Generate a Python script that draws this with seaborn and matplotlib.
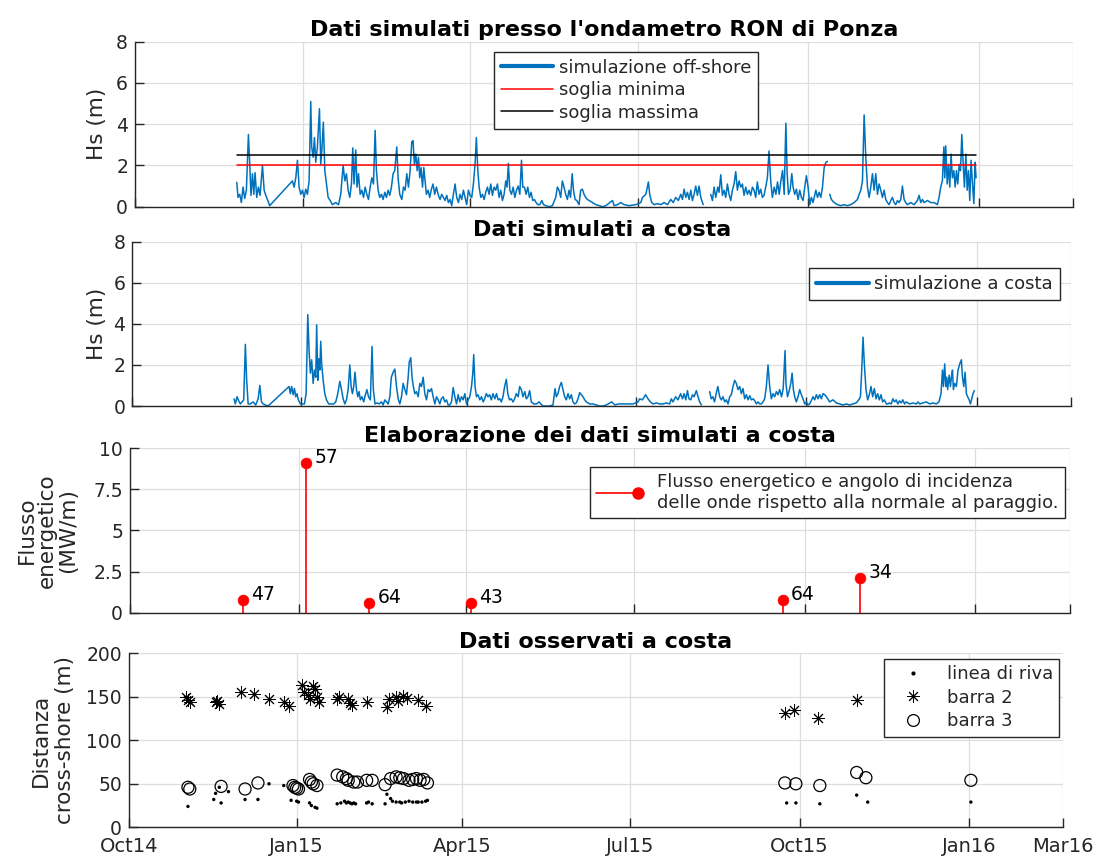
import numpy as np
import pandas as pd
import matplotlib
matplotlib.use("Agg")
import matplotlib.pyplot as plt
import seaborn as sns
from matplotlib.lines import Line2D
from matplotlib.legend_handler import HandlerLine2D

# ---------------- dati ----------------
# serie simulate: giorni dall'inizio della simulazione, Hs in metri (nan = buco nei dati)
inizio_sim = "2014-11-26"

giorni_off = [
    0.0, 0.7, 1.6, 2.5, 3.4, 4.3, 5.2, 6.3, 7.0, 7.7,
    8.5, 9.2, 9.9, 10.8, 11.7, 12.6, 13.9, 14.8, 15.7, 16.8,
    17.8, 30.1, 31.0, 31.9, 32.8, 33.7, 34.6, 35.5, 36.4, 37.3,
    38.2, 39.1, 40.0, 40.5, 41.3, 42.0, 42.7, 43.6, 44.7, 45.4,
    46.1, 46.8, 47.6, 48.5, 49.4, 50.5, 51.7, 53.5, 55.0, 56.2,
    57.5, 58.4, 59.3, 60.2, 61.1, 62.0, 62.7, 63.4, 64.3, 65.0,
    65.8, 66.7, 67.6, 68.5, 69.4, 70.3, 71.2, 72.1, 73.0, 73.9,
    74.8, 75.5, 76.4, 77.3, 78.2, 79.1, 80.0, 80.9, 81.8, 82.7,
    83.6, 84.5, 85.4, 86.5, 87.2, 88.1, 89.2, 90.1, 91.0, 91.9,
    92.8, 93.7, 94.6, 95.3, 96.0, 96.8, 97.5, 98.2, 98.9, 99.6,
    100.4, 101.1, 101.8, 102.5, 103.4, 104.3, 105.2, 106.1, 107.0, 107.9,
    109.0, 109.9, 110.8, 111.7, 112.6, 113.5, 114.4, 115.3, 116.2, 117.1,
    118.0, 118.9, 119.8, 120.7, 121.6, 122.5, 123.4, 124.3, 125.2, 126.1,
    127.0, 127.9, 128.8, 129.5, 130.3, 131.0, 131.9, 132.8, 133.7, 134.6,
    135.5, 136.4, 137.3, 138.2, 139.1, 140.0, 140.9, 141.8, 142.7, 143.6,
    144.5, 145.4, 146.1, 146.8, 147.6, 148.5, 149.4, 150.3, 151.2, 152.1,
    153.0, 153.9, 154.6, 155.5, 156.4, 157.3, 158.2, 159.1, 160.0, 160.9,
    161.8, 162.7, 163.8, 164.9, 165.8, 167.0, 168.8, 170.6, 172.4, 173.3,
    174.2, 175.1, 176.0, 176.9, 177.8, 178.7, 179.6, 180.4, 181.3, 182.0,
    182.9, 183.8, 185.0, 185.9, 186.8, 187.7, 188.6, 189.5, 190.5, 192.3,
    194.1, 195.9, 197.7, 199.5, 203.1, 204.0, 205.8, 207.6, 209.4, 212.1,
    215.7, 218.4, 219.3, 221.1, 222.5, 223.2, 224.3, 225.6, 227.4, 229.2,
    231.0, 232.8, 234.6, 235.9, 237.3, 238.7, 240.0, 240.9, 241.8, 242.7,
    243.6, 244.5, 245.4, 246.3, 247.2, 248.1, 249.0, 249.9, 250.8, 252.1,
    254.0, 256.2, 257.1, 258.0, 258.9, 260.0, 260.7, 261.6, 262.5, 263.4,
    264.3, 265.2, 266.1, 267.0, 267.9, 268.8, 269.7, 270.6, 271.5, 272.4,
    273.3, 274.2, 275.1, 276.0, 276.9, 277.8, 278.7, 279.6, 280.5, 281.4,
    282.3, 283.2, 284.1, 285.0, 285.9, 286.8, 287.7, 288.6, 289.5, 290.5,
    291.4, 292.3, 293.2, 294.1, 295.0, 295.9, 296.8, 297.5, 298.2, 299.1,
    300.0, 300.7, 301.6, 302.5, 303.4, 304.3, 305.2, 306.1, 307.0, 307.9,
    308.8, 309.7, 310.6, 311.5, 313.0, 313.9, 314.8, 315.7, 316.6, 317.5,
    318.4, 319.3, 319.9, 320.5, 321.4, 322.9, 324.7, 326.5, 328.3, 330.1,
    331.9, 333.7, 335.5, 336.4, 337.3, 338.2, 339.1, 340.0, 340.9, 341.8,
    342.7, 343.6, 344.5, 345.4, 346.3, 347.2, 348.1, 349.0, 349.9, 350.8,
    351.7, 352.6, 353.5, 354.4, 355.3, 356.2, 357.1, 358.0, 358.9, 359.8,
    360.7, 361.6, 362.5, 364.3, 366.1, 367.9, 368.8, 369.7, 370.6, 371.5,
    373.3, 375.1, 376.9, 378.7, 379.6, 380.5, 381.4, 382.2, 382.7, 383.2,
    384.0, 384.7, 385.4, 386.1, 386.8, 387.6, 388.3, 389.0, 389.7, 390.5,
    391.2, 391.9, 392.6, 393.3, 394.1, 394.8, 395.5, 396.2, 396.9, 397.7,
    398.4, 399.1, 399.6,
]
hs_off = [
    1.18, 0.45, 0.6, 0.2, 0.95, 0.4, 0.8, 3.5, 2.1, 0.55,
    1.6, 0.6, 1.65, 0.45, 0.95, 0.55, 2.0, 0.8, 0.55, 0.3,
    0.05, 1.25, 0.95, 1.4, 2.25, 0.95, 0.6, 0.8, 0.45, 0.85,
    0.6, 1.25, 5.1, 2.9, 2.4, 3.35, 2.15, 2.9, 4.75, 2.05,
    2.9, 4.1, 1.75, 1.1, 0.45, 0.3, 0.1, 0.2, 0.1, 0.6,
    2.0, 1.25, 1.6, 0.8, 0.45, 1.1, 2.85, 1.1, 2.75, 0.95,
    1.6, 0.6, 0.8, 0.45, 0.95, 0.6, 0.35, 0.95, 1.4, 1.1,
    3.7, 1.75, 0.8, 0.45, 0.6, 0.35, 0.7, 0.45, 0.8, 0.55,
    0.95, 1.6, 1.75, 2.9, 1.4, 0.6, 0.35, 0.95, 0.8, 1.6,
    0.95, 1.75, 3.15, 3.2, 2.05, 2.55, 1.75, 2.4, 1.4, 1.9,
    0.95, 1.9, 1.25, 0.6, 0.8, 0.45, 0.85, 1.1, 0.6, 0.95,
    0.55, 0.35, 0.6, 0.45, 0.3, 0.55, 0.2, 0.35, 0.05, 0.6,
    1.1, 0.45, 0.2, 0.6, 0.35, 0.8, 0.45, 0.1, 0.8, 0.55,
    0.45, 1.1, 2.05, 3.35, 1.75, 0.95, 0.45, 0.6, 0.35, 0.7,
    0.95, 0.6, 1.1, 0.55, 0.95, 0.8, 1.1, 0.45, 0.8, 0.3,
    0.6, 1.25, 0.95, 2.1, 0.8, 0.6, 0.95, 0.45, 0.8, 1.0,
    0.6, 2.25, 0.95, 0.95, 0.6, 0.95, 0.45, 0.7, 0.3, 0.35,
    0.2, 0.1, 0.1, 0.3, 0.1, 0.05, 0.0, 0.05, 0.45, 0.95,
    0.8, 0.45, 1.25, 0.95, 0.6, 0.35, 0.8, 0.45, 1.6, 0.8,
    0.35, 0.3, 0.1, 0.8, 0.85, 0.6, 0.45, 0.35, 0.3, 0.2,
    0.1, 0.05, 0.0, 0.05, 0.3, 0.05, 0.1, 0.2, 0.1, 0.05,
    0.1, 0.2, 0.45, 0.6, 1.2, 0.6, 0.2, 0.1, 0.15, 0.1,
    0.2, 0.1, 0.35, 0.2, 0.45, 0.3, 0.6, 0.35, 0.85, 0.45,
    0.7, 0.35, 0.8, 0.3, 0.6, 1.0, 0.55, 1.0, 0.45, 0.1,
    np.nan, 0.6, 0.3, 0.95, 0.45, 0.95, 0.7, 1.55, 0.55, 0.8,
    0.45, 1.1, 0.6, 0.3, 0.8, 1.1, 1.7, 0.8, 1.25, 0.95,
    1.1, 0.55, 0.95, 0.6, 0.8, 0.55, 0.95, 0.8, 0.45, 1.2,
    0.6, 0.85, 0.45, 0.55, 0.95, 1.4, 2.7, 1.25, 0.45, 0.95,
    0.6, 1.2, 0.6, 1.25, 1.75, 0.6, 4.05, 1.6, 0.6, 0.8,
    1.6, 0.95, 0.6, 0.85, 0.35, 0.8, 0.45, 0.3, 0.95, 1.5,
    0.95, 0.1, 0.45, 0.2, 0.8, 0.45, 0.7, 0.45, 0.95, 1.9,
    2.15, 2.2, np.nan, 0.6, 0.35, 0.2, 0.1, 0.05, 0.1, 0.05,
    0.1, 0.2, 0.35, 0.6, 0.8, 1.25, 4.45, 2.4, 0.95, 0.45,
    0.95, 1.6, 0.8, 1.6, 0.6, 1.1, 0.8, 0.45, 0.8, 0.35,
    0.2, 0.1, 0.3, 0.45, 0.2, 0.1, 0.3, 0.2, 0.35, 1.0,
    0.35, 0.2, 0.1, 0.2, 0.1, 0.3, 0.55, 0.2, 0.35, 0.2,
    0.3, 0.2, 0.2, 0.1, 0.45, 0.95, 1.25, 2.9, 1.4, 2.95,
    1.1, 2.05, 0.95, 2.55, 1.4, 1.75, 0.95, 1.75, 1.1, 2.05,
    1.75, 3.5, 2.15, 0.95, 2.55, 0.8, 1.75, 0.3, 2.25, 1.1,
    0.15, 2.15, 1.4,
]

giorni_costa = [
    0.0, 0.7, 1.6, 2.5, 3.4, 4.3, 5.2, 6.1, 6.8, 7.6,
    8.8, 10.3, 11.7, 13.0, 13.9, 14.8, 15.7, 16.9, 18.4, 29.7,
    30.4, 31.1, 31.9, 32.6, 33.3, 34.0, 34.7, 35.8, 36.9, 38.0,
    38.9, 39.8, 40.5, 41.2, 41.9, 42.7, 43.4, 44.1, 44.6, 45.2,
    45.7, 46.3, 46.8, 47.3, 48.1, 49.0, 49.9, 51.1, 52.6, 53.8,
    54.9, 56.0, 57.1, 58.0, 58.9, 59.8, 60.7, 61.6, 62.5, 63.2,
    63.9, 64.6, 65.3, 66.1, 66.8, 67.5, 68.2, 69.1, 70.0, 70.9,
    71.7, 72.6, 73.6, 74.5, 75.2, 76.1, 77.2, 78.3, 79.6, 80.5,
    81.4, 82.3, 83.2, 84.1, 84.9, 85.9, 86.8, 87.7, 88.6, 89.5,
    90.4, 91.3, 92.2, 93.1, 94.0, 94.6, 95.4, 96.1, 96.8, 97.6,
    98.5, 99.4, 100.3, 101.2, 102.1, 103.0, 103.9, 104.8, 105.7, 106.6,
    107.5, 108.4, 109.3, 110.2, 111.1, 111.9, 112.9, 113.8, 114.7, 115.6,
    116.5, 117.4, 118.3, 119.2, 120.1, 121.0, 121.9, 122.8, 123.7, 124.6,
    125.5, 126.4, 127.3, 128.2, 128.9, 129.4, 130.1, 130.9, 131.7, 132.7,
    133.6, 134.5, 135.3, 136.2, 137.1, 138.0, 138.9, 139.8, 140.8, 141.7,
    142.6, 143.5, 144.3, 145.2, 146.1, 147.0, 147.8, 148.7, 149.7, 150.6,
    151.5, 152.4, 153.4, 154.2, 155.1, 156.0, 157.0, 157.8, 158.7, 159.6,
    160.5, 161.8, 163.2, 164.7, 165.6, 166.8, 168.6, 170.4, 172.2, 173.3,
    174.0, 174.9, 175.8, 176.7, 177.6, 178.5, 179.4, 180.3, 181.2, 182.1,
    183.0, 183.9, 184.8, 185.7, 186.6, 187.5, 188.4, 189.3, 190.2, 191.1,
    192.0, 193.8, 195.6, 197.4, 199.2, 201.0, 202.0, 203.9, 205.6, 207.4,
    210.0, 212.7, 215.4, 218.1, 219.0, 220.5, 222.2, 223.5, 224.8, 226.2,
    228.0, 229.8, 231.6, 233.4, 235.2, 236.1, 237.0, 238.4, 239.7, 241.1,
    242.1, 243.0, 243.9, 244.8, 245.6, 246.6, 247.5, 248.4, 249.6, 250.5,
    251.4, 252.3, 254.0, 256.8, 257.6, 258.5, 259.4, 260.3, 261.2, 262.2,
    263.1, 264.0, 264.9, 265.8, 266.7, 267.6, 268.5, 269.4, 270.3, 271.2,
    272.1, 273.0, 273.9, 274.8, 275.7, 276.6, 277.5, 278.4, 279.3, 280.3,
    281.2, 282.0, 282.9, 283.8, 284.7, 285.6, 286.5, 287.4, 288.3, 289.2,
    290.1, 291.0, 291.9, 292.8, 293.7, 294.6, 295.6, 296.5, 296.9, 297.5,
    298.0, 298.8, 299.6, 300.6, 301.3, 302.0, 302.7, 303.6, 304.5, 305.4,
    306.3, 307.2, 308.1, 309.0, 309.9, 310.8, 312.6, 313.5, 314.4, 315.3,
    316.2, 317.1, 318.0, 318.9, 319.8, 321.6, 323.4, 325.2, 327.0, 328.8,
    330.5, 332.3, 334.1, 335.9, 337.3, 338.2, 338.9, 339.6, 340.3, 341.2,
    342.1, 343.0, 343.9, 344.8, 345.7, 346.6, 347.5, 348.4, 349.3, 350.2,
    351.1, 352.2, 353.0, 353.9, 354.8, 355.7, 356.6, 357.5, 358.4, 359.3,
    360.2, 361.1, 362.0, 362.9, 364.8, 366.5, 368.4, 369.3, 370.2, 372.0,
    373.8, 375.6, 377.4, 379.2, 380.6, 381.7, 382.5, 383.0, 383.7, 384.3,
    384.8, 385.3, 386.1, 386.8, 387.3, 387.9, 388.4, 389.1, 390.0, 390.9,
    391.8, 392.7, 393.3, 394.0, 394.7, 395.4, 396.1, 396.9, 397.6, 398.3,
    399.0, 399.7,
]
hs_costa = [
    0.35, 0.1, 0.45, 0.25, 0.1, 0.2, 0.3, 3.0, 1.25, 0.1,
    0.1, 0.2, 0.05, 0.35, 1.0, 0.2, 0.1, 0.05, 0.0, 0.95,
    0.6, 0.95, 0.55, 0.85, 0.45, 0.6, 0.3, 0.1, 0.1, 0.1,
    0.6, 4.45, 2.7, 1.6, 2.25, 1.1, 1.75, 1.4, 3.95, 1.25,
    2.3, 1.75, 3.15, 2.05, 1.25, 0.6, 0.3, 0.1, 0.1, 0.1,
    0.2, 0.6, 1.2, 0.8, 0.35, 0.1, 0.3, 0.8, 2.0, 0.95,
    0.6, 0.95, 1.65, 0.8, 0.45, 0.7, 0.3, 0.45, 0.2, 0.55,
    0.8, 0.45, 0.3, 2.9, 0.8, 0.1, 0.15, 0.1, 0.2, 0.05,
    0.3, 0.2, 0.1, 0.45, 1.4, 1.65, 1.8, 0.95, 0.35, 0.1,
    0.45, 1.1, 0.8, 0.55, 1.4, 2.15, 2.35, 1.4, 0.95, 0.6,
    0.7, 0.45, 1.1, 0.95, 1.4, 0.6, 0.3, 0.8, 0.7, 0.85,
    0.45, 0.1, 0.45, 0.3, 0.1, 0.35, 0.45, 0.2, 0.3, 0.05,
    0.05, 0.2, 0.9, 0.45, 0.1, 0.55, 0.2, 0.45, 0.3, 0.6,
    0.1, 0.3, 0.45, 0.95, 1.6, 2.5, 0.95, 0.45, 0.55, 0.3,
    0.45, 0.2, 0.35, 0.6, 0.45, 0.55, 0.3, 0.6, 0.35, 0.6,
    0.3, 0.35, 0.2, 0.45, 0.95, 1.3, 0.6, 0.3, 0.35, 0.2,
    0.35, 0.6, 0.45, 0.95, 0.8, 0.45, 0.7, 0.35, 0.45, 0.75,
    0.2, 0.1, 0.1, 0.2, 0.1, 0.0, 0.0, 0.0, 0.05, 0.85,
    0.45, 0.6, 0.95, 1.15, 0.8, 0.45, 0.3, 0.6, 0.35, 0.55,
    0.2, 0.1, 0.15, 0.35, 0.65, 0.55, 0.45, 0.3, 0.2, 0.15,
    0.1, 0.1, 0.05, 0.0, 0.0, 0.05, 0.1, 0.2, 0.05, 0.1,
    0.1, 0.1, 0.1, 0.2, 0.35, 0.3, 0.55, 0.35, 0.2, 0.1,
    0.15, 0.1, 0.1, 0.15, 0.1, 0.35, 0.2, 0.45, 0.3, 0.6,
    0.35, 0.6, 0.3, 0.75, 0.35, 0.3, 0.55, 0.45, 0.75, 0.45,
    0.2, 0.05, np.nan, 0.7, 0.35, 0.45, 0.2, 0.6, 0.95, 0.45,
    0.3, 0.45, 0.2, 0.3, 0.1, 0.45, 0.55, 0.95, 1.25, 1.1,
    0.8, 0.95, 0.6, 0.85, 0.35, 0.55, 0.3, 0.5, 0.3, 0.35,
    0.25, 0.1, 0.2, 0.1, 0.1, 0.2, 0.35, 0.95, 2.0, 0.95,
    0.35, 0.6, 0.45, 0.7, 0.55, 0.8, 0.45, 0.85, 1.6, 2.7,
    1.1, 0.45, 0.7, 1.1, 1.6, 0.8, 0.45, 0.2, 0.45, 0.8,
    0.55, 0.35, 0.1, 0.2, 0.05, 0.1, 0.45, 0.3, 0.55, 0.35,
    0.55, 0.35, 0.6, 0.55, 0.45, 0.2, 0.3, 0.15, 0.1, 0.05,
    0.1, 0.05, 0.1, 0.15, 0.3, 0.45, 1.75, 3.35, 2.05, 0.8,
    0.3, 0.55, 0.95, 0.45, 0.85, 0.35, 0.6, 0.3, 0.55, 0.2,
    0.3, 0.1, 0.1, 0.15, 0.1, 0.35, 0.2, 0.3, 0.1, 0.25,
    0.15, 0.3, 0.1, 0.2, 0.1, 0.15, 0.1, 0.2, 0.1, 0.15,
    0.2, 0.1, 0.15, 0.1, 0.2, 0.6, 1.75, 0.95, 2.05, 0.95,
    1.4, 0.8, 1.5, 0.95, 1.4, 1.75, 0.8, 1.1, 0.95, 1.75,
    2.05, 2.25, 1.4, 0.95, 1.65, 0.6, 0.45, 0.3, 0.1, 0.35,
    0.6, 0.75,
]

soglia_minima = 2.0
soglia_massima = 2.5
fine_soglie = 399.6  # giorni dall'inizio

# flusso energetico (MW/m) e angolo di incidenza
date_flusso = ["2014-12-02", "2015-01-05", "2015-02-08", "2015-04-04", "2015-09-19", "2015-10-31"]
flusso = [0.77, 9.1, 0.59, 0.59, 0.77, 2.09]
angolo = [47, 57, 64, 43, 64, 34]

# dati osservati a costa (m)
date_riva = ["2014-11-03", "2014-11-17", "2014-11-18", "2014-11-20", "2014-11-21", "2014-11-25",
             "2014-12-04", "2014-12-11", "2014-12-17", "2014-12-25", "2014-12-29", "2015-01-01",
             "2015-01-02", "2015-01-08", "2015-01-09", "2015-01-11", "2015-01-12", "2015-01-23",
             "2015-01-25", "2015-01-27", "2015-01-28", "2015-01-29", "2015-01-30", "2015-01-31",
             "2015-02-01", "2015-02-02", "2015-02-08", "2015-02-09", "2015-02-11", "2015-02-18",
             "2015-02-19", "2015-02-21", "2015-02-22", "2015-02-24", "2015-02-26", "2015-02-27",
             "2015-03-01", "2015-03-03", "2015-03-05", "2015-03-07", "2015-03-08", "2015-03-10",
             "2015-03-12", "2015-03-13", "2015-09-24", "2015-09-29", "2015-10-12", "2015-11-01",
             "2015-11-07", "2016-01-02"]
riva = [24, 32, 39, 46, 28, 41,
        32, 32, 50, 48, 31, 30,
        29, 28, 25, 23, 22, 27,
        28, 30, 28, 29, 28, 27,
        28, 27, 28, 29, 27, 27,
        38, 33, 30, 29, 29, 28,
        29, 30, 29, 29, 29, 29,
        30, 31, 28, 28, 27, 37,
        29, 29]

date_barra2 = ["2014-11-02", "2014-11-03", "2014-11-04", "2014-11-18", "2014-11-19", "2014-11-20",
               "2014-12-02", "2014-12-09", "2014-12-17", "2014-12-25", "2014-12-28", "2015-01-04",
               "2015-01-05", "2015-01-07", "2015-01-08", "2015-01-10", "2015-01-11", "2015-01-12",
               "2015-01-13", "2015-01-23", "2015-01-24", "2015-01-29", "2015-01-30", "2015-01-31",
               "2015-02-08", "2015-02-19", "2015-02-20", "2015-02-24", "2015-02-25", "2015-02-28",
               "2015-03-02", "2015-03-08", "2015-03-12", "2015-09-23", "2015-09-28", "2015-10-11",
               "2015-11-01"]
barra2 = [150, 146, 144, 144, 145, 142,
          155, 153, 147, 144, 139, 163,
          155, 152, 148, 162, 159, 150,
          144, 148, 150, 147, 143, 141,
          144, 138, 147, 150, 145, 151,
          149, 146, 140, 131, 135, 126,
          146]

date_barra3 = ["2014-11-03", "2014-11-04", "2014-11-21", "2014-12-04", "2014-12-11", "2014-12-30",
               "2014-12-31", "2015-01-01", "2015-01-02", "2015-01-08", "2015-01-09", "2015-01-10",
               "2015-01-12", "2015-01-23", "2015-01-26", "2015-01-28", "2015-01-29", "2015-02-01",
               "2015-02-03", "2015-02-08", "2015-02-11", "2015-02-18", "2015-02-21", "2015-02-24",
               "2015-02-26", "2015-02-28", "2015-03-03", "2015-03-05", "2015-03-07", "2015-03-09",
               "2015-03-11", "2015-03-13", "2015-09-23", "2015-09-29", "2015-10-12", "2015-11-01",
               "2015-11-06", "2016-01-02"]
barra3 = [46, 44, 47, 44, 51, 48,
          46, 45, 44, 55, 52, 50,
          48, 60, 58, 56, 54, 52,
          52, 54, 54, 49, 56, 58,
          57, 56, 54, 55, 56, 54,
          55, 51, 51, 50, 48, 63,
          57, 54]

# asse dei tempi
tick_date = ["2014-10-02", "2015-01-01", "2015-04-01", "2015-07-01", "2015-10-01", "2016-01-01", "2016-02-21"]
tick_etichette = ["Oct14", "Jan15", "Apr15", "Jul15", "Oct15", "Jan16", "Mar16"]

# ---------------- stile ----------------
sns.set_theme(style="whitegrid", rc={
    "axes.edgecolor": "#262626", "axes.linewidth": 1.0,
    "grid.color": "#dedede", "grid.linewidth": 0.9,
    "xtick.direction": "in", "ytick.direction": "in",
    "xtick.bottom": True, "ytick.left": True,
    "xtick.major.size": 6.5, "ytick.major.size": 6.5,
    "xtick.major.width": 1.0, "ytick.major.width": 1.0,
    "xtick.color": "#262626", "ytick.color": "#262626",
    "axes.labelcolor": "#262626",
    "xtick.labelsize": 14, "ytick.labelsize": 13.5,
})
plt.rcParams["font.family"] = ["DejaVu Sans"]

blu = "#0072BD"
W, H = 1095, 857


def serie(giorni, valori):
    df = pd.DataFrame({"giorno": giorni, "hs": valori})
    df["data"] = pd.Timestamp(inizio_sim) + pd.to_timedelta(df["giorno"], unit="D")
    df["tratto"] = df["hs"].isna().cumsum()
    return df.dropna()


def asse(sx, alto, dx, basso):
    return fig.add_axes([sx / W, 1 - basso / H, (dx - sx) / W, (basso - alto) / H])


def sistema(ax, titolo, etichetta, xlab, ylab_x, interlinea=1.2):
    ax.set_xlim(pd.Timestamp(tick_date[0]), pd.Timestamp(tick_date[-1]))
    ax.set_xticks(pd.to_datetime(tick_date))
    ax.set_xticklabels(tick_etichette if xlab else [])
    ax.set_xlabel("")
    ax.set_ylabel(etichetta, fontsize=15.5, va="center", linespacing=interlinea)
    ax.yaxis.set_label_coords(ylab_x, 0.5)
    ax.set_title(titolo, fontsize=16, fontweight="bold", color="black", pad=4)
    for s in ["top", "right"]:
        ax.spines[s].set_visible(False)
    ax.tick_params(axis="y", pad=5)
    ax.tick_params(axis="x", pad=7)
    ax.grid(True)


def cornice(leg):
    fr = leg.get_frame()
    fr.set_edgecolor("#262626")
    fr.set_linewidth(1.0)


class ManigliaStem(HandlerLine2D):
    def create_artists(self, legend, orig_handle, xdescent, ydescent, width, height, fontsize, trans):
        y = height / 2 - ydescent
        x0, x1 = -xdescent, -xdescent + width
        linea = Line2D([x0, x1], [y, y], color="red", lw=1.2, transform=trans)
        punto = Line2D([x1], [y], color="red", marker="o", ms=8, ls="none", transform=trans)
        return [linea, punto]


fig = plt.figure(figsize=(W / 100, H / 100), dpi=100)

# ---- 1: off-shore ----
ax1 = asse(135, 41.7, 1073, 206.7)
off = serie(giorni_off, hs_off)
sns.lineplot(data=off, x="data", y="hs", units="tratto", estimator=None,
             color=blu, lw=1.1, ax=ax1, legend=False)
soglie = pd.DataFrame({"data": [pd.Timestamp(inizio_sim), pd.Timestamp(inizio_sim) + pd.Timedelta(days=fine_soglie)]})
sns.lineplot(x=soglie["data"], y=[soglia_minima] * 2, color="red", lw=1.1, ax=ax1)
sns.lineplot(x=soglie["data"], y=[soglia_massima] * 2, color="black", lw=1.1, ax=ax1)
ax1.set_ylim(0, 8)
ax1.set_yticks([0, 2, 4, 6, 8])
sistema(ax1, "Dati simulati presso l'ondametro RON di Ponza", "Hs (m)", False, -0.040)
leg = ax1.legend(handles=[Line2D([], [], color=blu, lw=3),
                          Line2D([], [], color="red", lw=1.1),
                          Line2D([], [], color="black", lw=1.1)],
                 labels=["simulazione off-shore", "soglia minima", "soglia massima"],
                 loc="upper left", bbox_to_anchor=(0.383, 0.938), borderaxespad=0,
                 fontsize=13, frameon=True, fancybox=False, framealpha=1,
                 handlelength=2.9, handletextpad=0.3, labelspacing=0.25, borderpad=0.38)
cornice(leg)

# ---- 2: a costa ----
ax2 = asse(132.2, 241.7, 1071.2, 406)
costa = serie(giorni_costa, hs_costa)
sns.lineplot(data=costa, x="data", y="hs", units="tratto", estimator=None,
             color=blu, lw=1.1, ax=ax2, legend=False)
ax2.set_ylim(0, 8)
ax2.set_yticks([0, 2, 4, 6, 8])
sistema(ax2, "Dati simulati a costa", "Hs (m)", False, -0.037)
leg = ax2.legend(handles=[Line2D([], [], color=blu, lw=3)], labels=["simulazione a costa"],
                 loc="upper right", bbox_to_anchor=(0.988, 0.84), borderaxespad=0,
                 fontsize=13, fancybox=False, framealpha=1,
                 handlelength=2.9, handletextpad=0.3, borderpad=0.4)
cornice(leg)

# ---- 3: flusso energetico ----
ax3 = asse(130, 448, 1070, 612.7)
df_fl = pd.DataFrame({"data": pd.to_datetime(date_flusso), "flusso": flusso, "angolo": angolo})
ax3.vlines(df_fl["data"], 0, df_fl["flusso"], color="red", lw=1.2)
sns.scatterplot(data=df_fl, x="data", y="flusso", color="red", s=60, edgecolor="red",
                linewidth=0.5, ax=ax3, zorder=3, legend=False)
for d, f, a in zip(df_fl["data"], df_fl["flusso"], df_fl["angolo"]):
    ax3.annotate(str(a), (d, f), xytext=(6, 4), textcoords="offset points",
                 fontsize=13.5, ha="left", va="center", color="black")
ax3.set_ylim(0, 10)
ax3.set_yticks([0, 2.5, 5, 7.5, 10])
ax3.set_yticklabels(["0", "2.5", "5", "7.5", "10"])
sistema(ax3, "Elaborazione dei dati simulati a costa", "Flusso\nenergetico\n(MW/m)", False, -0.088, 1.05)
maniglia = Line2D([], [], color="red")
leg = ax3.legend(handles=[maniglia],
                 labels=["Flusso energetico e angolo di incidenza\ndelle onde rispetto alla normale al paraggio."],
                 handler_map={maniglia: ManigliaStem()},
                 loc="upper right", bbox_to_anchor=(0.995, 0.885), borderaxespad=0,
                 fontsize=13, fancybox=False, framealpha=1,
                 handlelength=2.3, handletextpad=1.1, borderpad=0.35)
cornice(leg)

# ---- 4: osservazioni ----
ax4 = asse(129, 653.3, 1063, 827.3)
sns.scatterplot(x=pd.to_datetime(date_riva), y=riva, marker="o", s=6, color="black",
                edgecolor="none", ax=ax4, legend=False)
sns.scatterplot(x=pd.to_datetime(date_barra2), y=barra2, marker=(8, 2, 0), s=75, color="black",
                linewidth=0.7, ax=ax4, legend=False)
sns.scatterplot(x=pd.to_datetime(date_barra3), y=barra3, marker="o", s=75, facecolor="none",
                edgecolor="black", linewidth=0.9, ax=ax4, legend=False)
ax4.set_ylim(0, 200)
ax4.set_yticks([0, 50, 100, 150, 200])
sistema(ax4, "Dati osservati a costa", "Distanza\ncross-shore (m)", True, -0.081, 1.25)
leg = ax4.legend(handles=[Line2D([], [], ls="none", marker="o", ms=2, color="black"),
                          Line2D([], [], ls="none", marker=(8, 2, 0), ms=9, color="black", mew=0.7),
                          Line2D([], [], ls="none", marker="o", ms=8.5, mfc="none", mec="black", mew=0.9)],
                 labels=["linea di riva", "barra 2", "barra 3"],
                 loc="upper right", bbox_to_anchor=(0.996, 0.967), borderaxespad=0,
                 fontsize=13, fancybox=False, framealpha=1,
                 handlelength=2.5, handletextpad=0.6, labelspacing=0.3, borderpad=0.35)
cornice(leg)

fig.savefig("out.png", dpi=100)
